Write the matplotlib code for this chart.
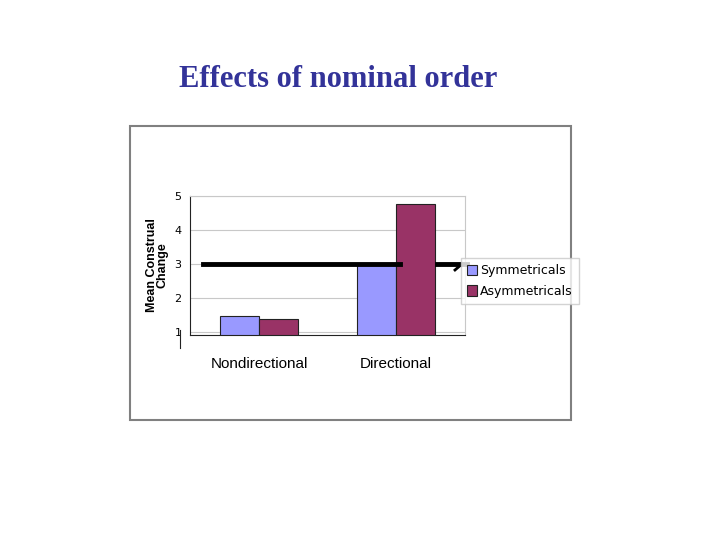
import numpy as np
import matplotlib.pyplot as plt
from matplotlib.lines import Line2D
from matplotlib.patches import Rectangle

categories = ["Nondirectional", "Directional"]
symmetricals = [1.47, 3.0]
asymmetricals = [1.38, 4.76]
yticks = [1, 2, 3, 4, 5]

fig = plt.figure(figsize=(7.2, 5.4), dpi=100)
fig.text(0.47, 0.852, "Effects of nominal order", ha="center", va="center",
         family="Liberation Serif", fontweight="bold", fontsize=22, color="#333399")

# outer chart frame
fig.add_artist(Rectangle((130/720, 1-420/540), 441/720, 294/540, transform=fig.transFigure,
                         fill=False, edgecolor="#808080", lw=1.5))

ax = fig.add_axes([190/720, 1-335/540, 275/720, 139/540])
x = np.arange(len(categories))
w = 0.285
ax.bar(x - w/2, symmetricals, w, bottom=0, color="#9999ff", edgecolor="#222222", lw=0.8,
       label="Symmetricals", zorder=2)
ax.bar(x + w/2, asymmetricals, w, color="#993366", edgecolor="#222222", lw=0.8,
       label="Asymmetricals", zorder=2)
ax.set_xlim(-0.504, 1.504)
ax.set_ylim(0.91, 5)
ax.set_yticks(yticks)
ax.tick_params(axis="y", labelsize=8, length=0, pad=6)
ax.set_xticks(x)
ax.set_xticklabels(categories, family="Liberation Sans", fontsize=11)
ax.tick_params(axis="x", length=0, pad=16)
ax.yaxis.grid(True, color="#c8c8c8", lw=0.8, zorder=0)
for s in ["top", "right"]:
    ax.spines[s].set_color("#c8c8c8")
ax.spines["left"].set_color("#222222")
ax.spines["bottom"].set_color("#222222")
ax.set_ylabel("Mean Construal\nChange", fontweight="bold", fontsize=9,
              family="Liberation Sans", labelpad=4, linespacing=0.9)
# left axis stub below
fig.add_artist(Line2D([180/720, 180/720], [1-348/540, 1-330/540], color="#222222", lw=0.8))

# black reference line
fig.add_artist(Line2D([203/720, 400/720], [1-264/540, 1-264/540], color="black", lw=3.5))
fig.add_artist(Line2D([437/720, 467/720], [1-264/540, 1-264/540], color="black", lw=3.5))
fig.add_artist(Line2D([455/720, 462/720], [1-270/540, 1-264/540], color="black", lw=2))

leg = fig.legend(loc="center", bbox_to_anchor=(520/720, 1-281/540), fontsize=8.5,
                 frameon=True, fancybox=False, handlelength=0.8, handleheight=0.9,
                 handletextpad=0.2, borderpad=0.5, labelspacing=0.6,
                 prop={"family": "Liberation Sans Narrow", "size": 9})
leg.get_frame().set_edgecolor("#c8c8c8")

fig.savefig("out.png", dpi=100)
